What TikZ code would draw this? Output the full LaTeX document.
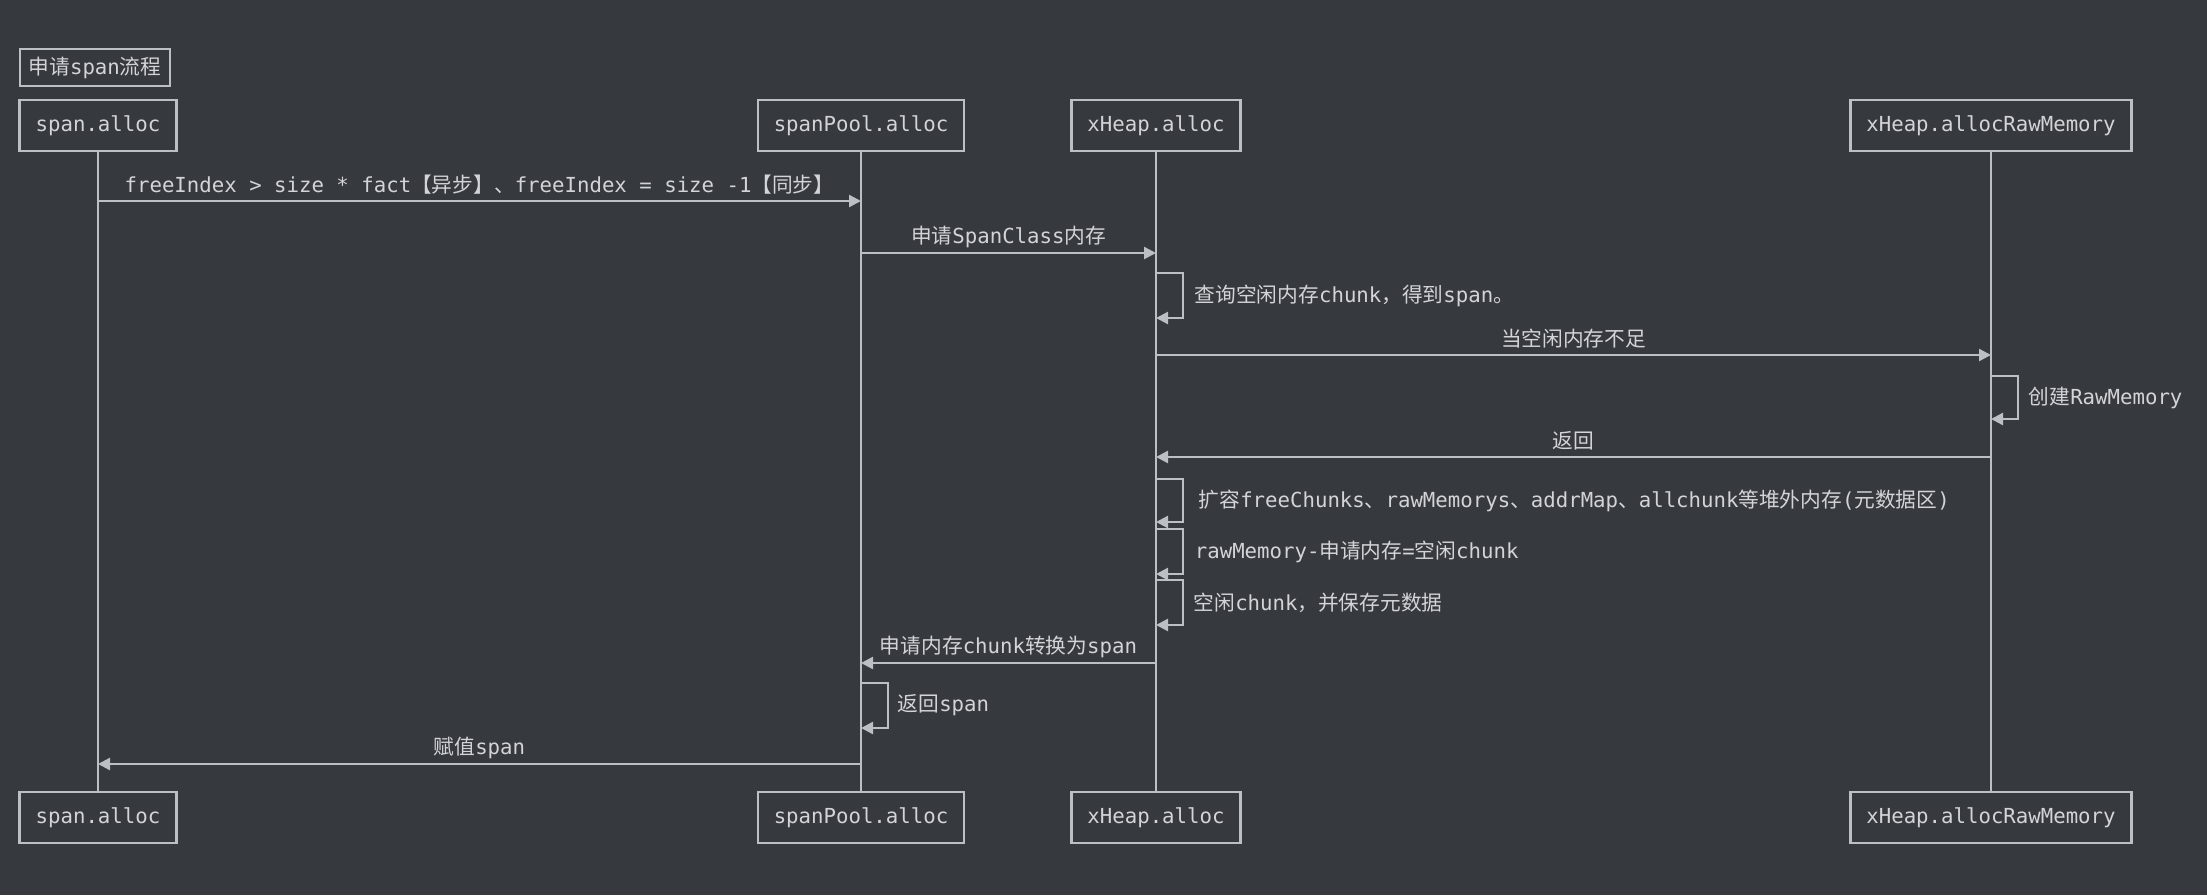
\documentclass[tikz,border=0pt]{standalone}
\usepackage{fontspec}
\setmainfont{DejaVu Sans Mono}
\newfontfamily\cjk{Noto Sans CJK SC}
\usetikzlibrary{arrows.meta}
\definecolor{bgdark}{RGB}{54,57,62}
\definecolor{linegray}{RGB}{188,191,195}
\definecolor{textgray}{RGB}{210,212,215}
\newcommand{\ZH}[1]{{\cjk #1}}
\newcommand{\lblfont}{\fontsize{10.35pt}{12pt}\selectfont}

\begin{document}
\begin{tikzpicture}[x=0.5pt,y=-0.5pt,
    actor/.style={draw=linegray,line width=1.2pt,fill=bgdark,text=textgray,
      inner xsep=8pt,minimum height=25.5pt,font=\lblfont},
    life/.style={draw=linegray,line width=1pt},
    msg/.style={draw=linegray,line width=1.2pt,-{Triangle[length=6pt,width=6pt]}},
    lbl/.style={text=textgray,font=\lblfont}]

    \fill[bgdark] (0,0) rectangle (2207,895);

    \node[actor,inner xsep=4.3pt,minimum height=18.5pt] (title) at (95,67.5) {\ZH{申请}span\ZH{流程}};

    % participants, top and bottom
    \node[actor] (spanTop) at (98,125.5) {span.alloc};
    \node[actor] (poolTop) at (861,125.5) {spanPool.alloc};
    \node[actor] (heapTop) at (1156,125.5) {xHeap.alloc};
    \node[actor] (rawTop) at (1991,125.5) {xHeap.allocRawMemory};

    \node[actor] (spanBot) at (98,817.5) {span.alloc};
    \node[actor] (poolBot) at (861,817.5) {spanPool.alloc};
    \node[actor] (heapBot) at (1156,817.5) {xHeap.alloc};
    \node[actor] (rawBot) at (1991,817.5) {xHeap.allocRawMemory};

    \foreach \p in {span,pool,heap,raw} {
        \draw[life] (\p Top) -- (\p Bot);
    }

    % messages between lifelines
    \foreach \a/\b/\y/\txt in {
        spanTop/poolTop/201/{freeIndex > size * fact\ZH{【异步】、}freeIndex = size -1\ZH{【同步】}},
        poolTop/heapTop/253/{\ZH{申请}SpanClass\ZH{内存}},
        heapTop/rawTop/355/{\ZH{当空闲内存不足}},
        rawTop/heapTop/457/{\ZH{返回}},
        heapTop/poolTop/663/{\ZH{申请内存}chunk\ZH{转换为}span},
        poolTop/spanTop/764/{\ZH{赋值}span}} {
        \draw[msg] (\a |- 0,\y) -- (\b |- 0,\y) node[midway,yshift=8pt,lbl] {\txt};
    }

    % self messages
    \foreach \a/\ya/\yb/\dx/\txt in {
        heapTop/273/318/2/{\ZH{查询空闲内存}chunk\ZH{，得到}span\ZH{。}},
        rawTop/376/419/1.5/{\ZH{创建}RawMemory},
        heapTop/479/522/4/{\ZH{扩容}freeChunks\ZH{、}rawMemorys\ZH{、}addrMap\ZH{、}allchunk\ZH{等堆外内存}(\ZH{元数据区})},
        heapTop/529/574/2/{rawMemory-\ZH{申请内存}=\ZH{空闲}chunk},
        heapTop/580/625/1.5/{\ZH{空闲}chunk\ZH{，并保存元数据}},
        poolTop/683/728/1/{\ZH{返回}span}} {
        \draw[msg] (\a |- 0,\ya) -- ++(27,0) -- ++(0,{\yb-\ya}) node[midway,right,xshift=\dx pt,lbl] {\txt}
            -- (\a |- 0,\yb);
    }
\end{tikzpicture}
\end{document}
